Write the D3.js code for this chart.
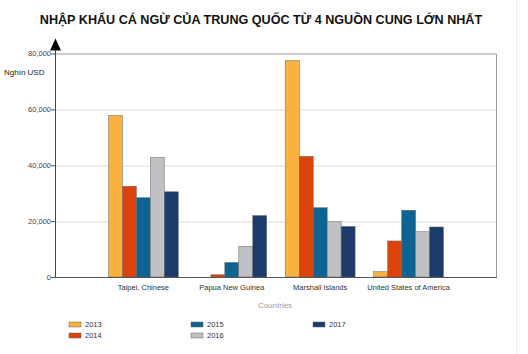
<!DOCTYPE html>
<html>
<head>
<meta charset="utf-8">
<script src="https://cdn.jsdelivr.net/npm/d3@7"></script>
<style>
  body { margin: 0; background: #fff; }
  text { font-family: "Liberation Sans", Arial, sans-serif; }
</style>
</head>
<body>
<div id="chart"></div>
<script>
// data
const countries = ["Taipei, Chinese", "Papua New Guinea", "Marshall Islands", "United States of America"];
const years = ["2013", "2014", "2015", "2016", "2017"];
const v2013 = [57800, 0, 77500, 1900];
const v2014 = [32500, 800, 43200, 12900];
const v2015 = [28400, 5200, 24800, 23900];
const v2016 = [42800, 11000, 19800, 16200];
const v2017 = [30500, 22000, 18100, 17900];
const yTicks = [0, 20000, 40000, 60000, 80000];
const colors = ["#f9b13f", "#dc420c", "#0d6391", "#bfc0c4", "#1c3a6a"];

const series = [v2013, v2014, v2015, v2016, v2017];
const rows = countries.map((c, i) => ({country: c, values: years.map((y, j) => ({year: y, value: series[j][i]}))}));

const W = 528, H = 354;
const margin = {top: 53.5, right: 31, bottom: 77, left: 55};
const width = W - margin.left - margin.right,
    height = H - margin.top - margin.bottom;

const svg = d3.select("#chart").append("svg")
    .attr("width", W).attr("height", H);

// faint edge line on the right of the picture
svg.append("line").attr("x1", 516.5).attr("x2", 516.5).attr("y1", 0).attr("y2", H)
    .attr("stroke", "#ececec");

svg.append("text")
    .attr("x", 261).attr("y", 24)
    .attr("text-anchor", "middle")
    .style("font-size", "12.6px").style("font-weight", "bold")
    .attr("fill", "#111")
    .text("NHẬP KHẨU CÁ NGỪ CỦA TRUNG QUỐC TỪ 4 NGUỒN CUNG LỚN NHẤT");

const g = svg.append("g").attr("transform", `translate(${margin.left},${margin.top})`);

const x0 = d3.scaleBand().domain(countries).range([0, width]).paddingInner(0).paddingOuter(0.5);
const groupW = x0.bandwidth() * 0.79;
const x1 = d3.scaleBand().domain(years)
    .range([(x0.bandwidth() - groupW) / 2, (x0.bandwidth() + groupW) / 2]);
const y = d3.scaleLinear().domain([0, 80000]).range([height, 0]);
const color = d3.scaleOrdinal().domain(years).range(colors);

// grid
g.selectAll(".grid").data(yTicks.slice(1, -1)).enter().append("line")
    .attr("x1", 0).attr("x2", width)
    .attr("y1", d => Math.round(y(d)) + 0.5).attr("y2", d => Math.round(y(d)) + 0.5)
    .attr("stroke", "#dcdcdc");

// plot frame (top and right)
g.append("path")
    .attr("d", `M0,0.5H${width - 0.5}V${height}`)
    .attr("fill", "none").attr("stroke", "#9a9a9a");

// bars
const groups = g.selectAll(".grp").data(rows).enter().append("g")
    .attr("transform", d => `translate(${x0(d.country)},0)`);
groups.selectAll("rect").data(d => d.values.filter(v => v.value > 0)).enter().append("rect")
    .attr("x", d => x1(d.year))
    .attr("width", x1.bandwidth())
    .attr("y", d => y(d.value))
    .attr("height", d => height - y(d.value))
    .attr("fill", d => color(d.year))
    .attr("stroke", "#6b6b6b").attr("stroke-width", 0.5);

// x axis line
g.append("line").attr("x1", 0).attr("x2", width).attr("y1", height + 0.5).attr("y2", height + 0.5)
    .attr("stroke", "#555");

// category labels
g.selectAll(".cat").data(countries).enter().append("text")
    .attr("x", d => x0(d) + x0.bandwidth() / 2)
    .attr("y", height + 13)
    .attr("text-anchor", "middle")
    .style("font-size", "7.5px").attr("fill", "#333")
    .text(d => d);

g.append("text").attr("x", 220).attr("y", height + 31)
    .attr("text-anchor", "middle")
    .style("font-size", "8px").attr("fill", "#9a9ca4")
    .text("Countries");

// y axis
const yAxis = g.append("g").call(d3.axisLeft(y).tickValues(yTicks).tickSize(4)
    .tickFormat(d3.format(",")));
yAxis.select(".domain").attr("stroke", "#444").attr("d", `M0.5,${height}V-4`);
yAxis.selectAll(".tick line").attr("stroke", "#555").attr("x1", 0.5);
yAxis.selectAll(".tick text").style("font-size", "7.5px").attr("fill", "#444")
    .style("font-family", "'Liberation Sans', Arial, sans-serif").attr("x", -4);

// arrow on top of y axis
g.append("path").attr("d", "M0.5,-15L-5,-3L6,-3Z").attr("fill", "#000");

svg.append("text").attr("x", 4).attr("y", 75)
    .style("font-size", "8px").attr("fill", "#222")
    .text("Nghìn USD");

// legend
const legPos = [[69, 322], [69, 333], [191, 322], [191, 333], [313, 322]];
const leg = svg.selectAll(".leg").data(years).enter().append("g")
    .attr("transform", (d, i) => `translate(${legPos[i][0]},${legPos[i][1]})`);
leg.append("rect").attr("x", 0).attr("y", 0).attr("width", 12).attr("height", 5)
    .attr("fill", d => color(d)).attr("stroke", "#666").attr("stroke-width", 0.5);
leg.append("text").attr("x", 16).attr("y", 5)
    .style("font-size", "7.5px").attr("fill", "#333")
    .text(d => d);
</script>
</body>
</html>
